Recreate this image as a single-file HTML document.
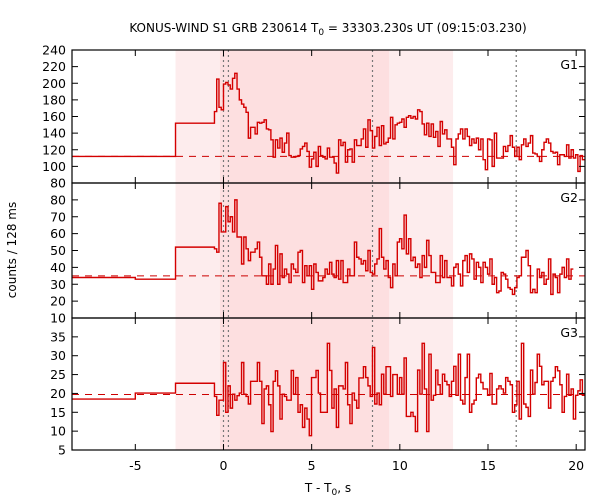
<!DOCTYPE html>
<html><head><meta charset="utf-8"><style>
body{margin:0;background:#fff;}
svg{display:block;font-family:"DejaVu Sans","Liberation Sans",sans-serif;}
</style></head><body>
<svg id="chart" width="600" height="500" viewBox="0 0 600 500">
<text x="328" y="32" font-size="12" text-anchor="middle">KONUS-WIND S1 GRB 230614 T<tspan font-size="9" dy="3">0</tspan><tspan dy="-3"> = 33303.230s UT (09:15:03.230)</tspan></text>
<text x="328" y="492" font-size="12" text-anchor="middle">T - T<tspan font-size="9" dy="3">0</tspan><tspan dy="-3">, s</tspan></text>
<text transform="translate(16,250) rotate(-90)" font-size="12" text-anchor="middle">counts / 128 ms</text>
</svg>
<script>
const xDomain = [-8.59, 20.5];
const binWidth = 0.128;
const fineStart = -0.512;
const shadeLight = [-2.72, 13.02];
const shadeDark = [-0.2, 9.39];
const dottedTimes = [0.0, 0.28, 8.45, 16.6];
const xTicks = [-5, 0, 5, 10, 15, 20];

const g1PreEdges = [-8.59, -2.72, -0.512];
const g1PreValues = [112, 152];
const g1Values = [166,205,171,168,199,201,198,193,206,212,193,180,175,171,165,134,147,147,139,153,152,153,156,145,144,132,111,132,122,134,117,128,140,113,111,111,112,113,121,124,128,118,99,109,117,100,124,113,111,109,122,111,111,104,92,132,125,129,105,120,121,105,132,125,125,133,145,123,156,143,122,136,147,125,149,127,129,134,159,133,150,152,153,157,147,159,161,158,
160,157,168,166,151,138,152,136,151,135,142,124,154,139,144,133,133,123,102,133,139,145,133,145,136,125,133,128,134,120,133,108,96,133,132,100,140,110,110,110,124,118,125,137,123,112,123,108,126,133,124,128,137,116,115,112,106,120,129,133,128,118,116,117,102,114,114,112,126,110,120,110,114,94,113,108];
const g1Background = 112;

const g2PreEdges = [-8.59, -5.0, -2.72, -0.512];
const g2PreValues = [34, 33, 52];
const g2Values = [51,49,78,61,61,76,67,70,61,80,58,58,42,58,51,44,49,49,51,55,46,35,35,30,42,30,39,53,30,48,34,39,36,31,42,39,37,49,50,31,41,35,41,27,42,37,32,32,34,39,36,43,36,34,44,33,44,31,31,39,35,35,55,46,45,42,44,38,50,37,36,42,45,63,46,39,44,34,28,42,
35,55,57,51,71,48,57,44,46,40,42,34,47,40,56,47,37,37,31,31,47,34,44,34,34,29,40,42,36,29,44,47,37,48,45,33,43,40,31,43,40,36,45,30,34,25,26,37,36,33,28,27,24,28,34,35,46,46,50,41,25,27,25,39,34,37,30,33,45,24,36,34,25,36,40,34,45,33,39];
const g2Background = 35;

const g3PreEdges = [-8.59, -5.0, -2.72, -0.512];
const g3PreValues = [18.5, 20.1, 22.7];
const g3Values = [19.2,14.2,18.2,18.2,28.2,15,22,16.1,19.8,18.2,19.4,20.1,28.2,19.8,19.2,17.2,23.2,23.2,23.2,28.2,23.2,12,21.2,22,17,9.9,23.2,26,22,13.2,19.8,19.2,18.2,18.2,26.1,19.8,24.2,15,17,11,16.1,13.2,8.8,24.2,24.2,26.1,20.1,15,15,15,33.3,26.1,16.1,21.2,11,22,22,21.2,28.2,17,12,20.1,18.2,16.1,24.1,24.1,27.1,24.2,22,19.2,32.2,17.2,20.1,17,25.1,19.8,27.1,27.1,19.2,25,25,
19.8,24.2,19.8,29.4,13.9,13.9,15,13.9,9.9,26.2,19.8,33.3,21.2,9.9,30.4,18.2,19.5,26.2,22.3,19.8,25.1,23.2,22.3,19.2,23.2,27.2,19.5,30.4,18.2,17.2,24.2,30.4,15,17.2,18.2,24.1,25.1,22.9,21.2,21.2,19.5,25.3,17.2,17.2,21.2,22,21.2,20.1,24.2,23.2,22.3,15,17,23.2,13.2,33.3,17.2,16.3,13.9,26.2,19.8,22.9,30.4,27.2,22.3,23.2,23.2,16.1,23.2,24.2,27.1,26,22.3,15,19.2,25.1,19.5,21.2,13.2,19.5,20.7,23.6,19.5];
const g3Background = 19.7;

const panels = [
  {name:'g1', label:'G1', top:50, bottom:183, yDomain:[80,240], ticks:[80,100,120,140,160,180,200,220,240], pre:[g1PreEdges,g1PreValues], vals:g1Values, bg:g1Background},
  {name:'g2', label:'G2', top:183, bottom:318, yDomain:[10,90], ticks:[10,20,30,40,50,60,70,80], pre:[g2PreEdges,g2PreValues], vals:g2Values, bg:g2Background},
  {name:'g3', label:'G3', top:318, bottom:450, yDomain:[5,40], ticks:[5,10,15,20,25,30,35], pre:[g3PreEdges,g3PreValues], vals:g3Values, bg:g3Background}
];

const L = 72, R = 585, TOP = 50, BOT = 450;
const svg = document.getElementById('chart');
const NS = 'http://www.w3.org/2000/svg';
function xs(t){ return L + (t - xDomain[0]) / (xDomain[1] - xDomain[0]) * (R - L); }
function mk(tag, attrs){ const e = document.createElementNS(NS, tag); for (const k in attrs) e.setAttribute(k, attrs[k]); svg.appendChild(e); return e; }

const defs = document.createElementNS(NS,'defs');
defs.innerHTML = '<clipPath id="plotclip"><rect x="'+L+'" y="'+TOP+'" width="'+(R-L)+'" height="'+(BOT-TOP)+'"/></clipPath>';
svg.appendChild(defs);

let r1 = mk('rect',{x:xs(shadeLight[0]), y:TOP, width:xs(shadeLight[1])-xs(shadeLight[0]), height:BOT-TOP, fill:'#fdeced'});


let r2 = mk('rect',{x:xs(shadeDark[0]), y:TOP, width:xs(shadeDark[1])-xs(shadeDark[0]), height:BOT-TOP, fill:'#fddfe0'});



dottedTimes.forEach(t => {
  const l = mk('line',{x1:xs(t), x2:xs(t), y1:TOP, y2:BOT, stroke:'#777', 'stroke-width':1.2, 'stroke-dasharray':'2,3'});
  
  
});

panels.forEach(p => {
  const ys = v => p.bottom - (v - p.yDomain[0]) / (p.yDomain[1] - p.yDomain[0]) * (p.bottom - p.top);
  const bl = mk('line',{x1:L, x2:R, y1:ys(p.bg), y2:ys(p.bg), stroke:'#cc0000', 'stroke-width':1, 'stroke-dasharray':'7,6'});
  
  
  const [pe, pv] = p.pre;
  let d = 'M' + xs(pe[0]) + ',' + ys(pv[0]);
  for (let i = 0; i < pv.length; i++) {
    d += 'L' + xs(pe[i]) + ',' + ys(pv[i]) + 'L' + xs(pe[i+1]) + ',' + ys(pv[i]);
  }
  for (let i = 0; i < p.vals.length; i++) {
    const t0 = fineStart + i * binWidth, t1 = t0 + binWidth;
    d += 'L' + xs(t0) + ',' + ys(p.vals[i]) + 'L' + xs(t1) + ',' + ys(p.vals[i]);
  }
  const path = mk('path',{d:d, fill:'none', stroke:'#d40000', 'stroke-width':1.4, 'clip-path':'url(#plotclip)'});
  
  
  const fr = mk('rect',{x:L, y:p.top, width:R-L, height:p.bottom-p.top, fill:'none', stroke:'#000', 'stroke-width':1.2});
  
  
  p.ticks.forEach(v => {
    const y = ys(v);
    mk('line',{x1:L, x2:L+6, y1:y, y2:y, stroke:'#000', 'stroke-width':1});
    mk('line',{x1:R-6, x2:R, y1:y, y2:y, stroke:'#000', 'stroke-width':1});
    const tx = mk('text',{x:L-6, y:y+4.5, 'font-size':12.5, 'text-anchor':'end'});
    tx.textContent = v;
    
    
  });
  xTicks.forEach(t => {
    const x = xs(t);
    mk('line',{x1:x, x2:x, y1:p.top, y2:p.top+6, stroke:'#000', 'stroke-width':1});
    mk('line',{x1:x, x2:x, y1:p.bottom-6, y2:p.bottom, stroke:'#000', 'stroke-width':1});
  });
  const lab = mk('text',{x:R-7, y:p.top+19, 'font-size':12.5, 'text-anchor':'end'});
  lab.textContent = p.label;
  
  
});

xTicks.forEach(t => {
  const tx = mk('text',{x:xs(t), y:470, 'font-size':12.5, 'text-anchor':'middle'});
  tx.textContent = t;
  
  
});
</script>
</body></html>
